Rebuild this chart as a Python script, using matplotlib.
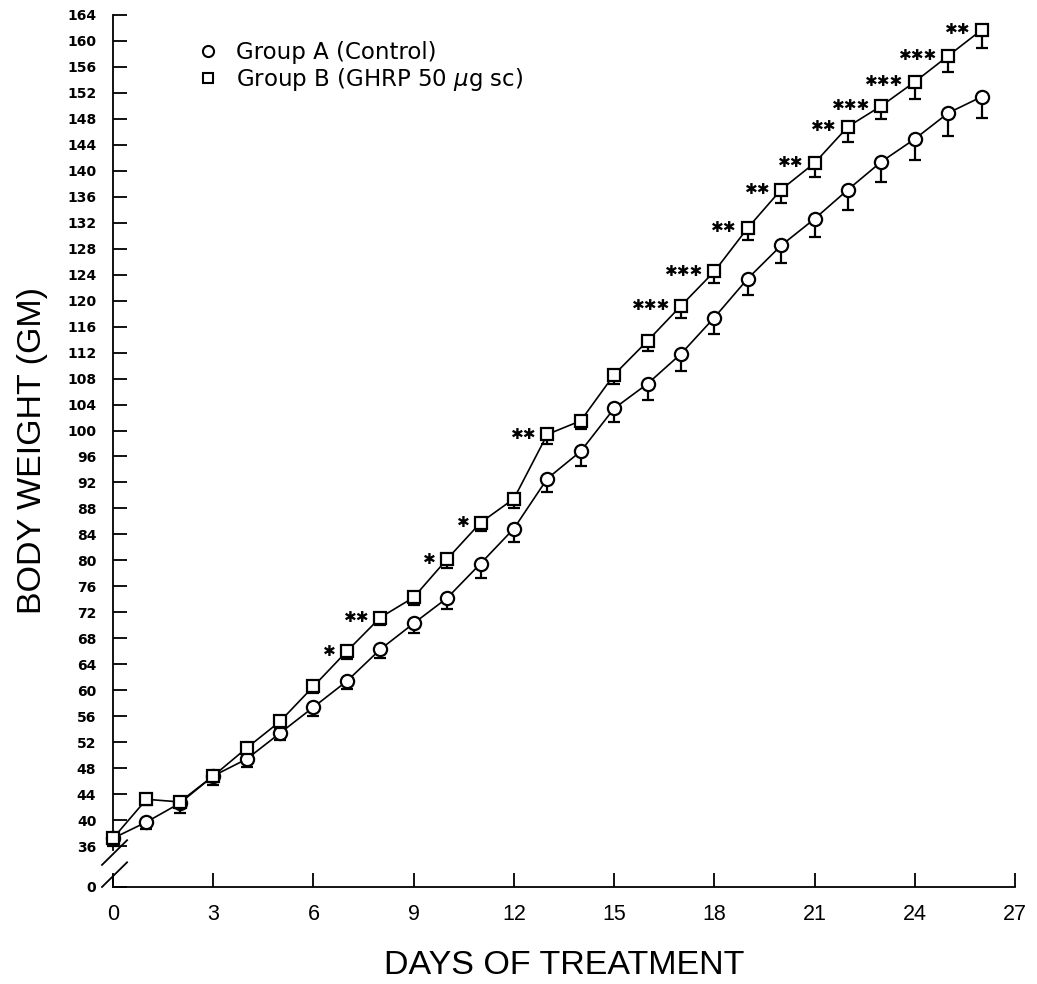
import matplotlib
matplotlib.use('Agg')
import matplotlib.pyplot as plt
from matplotlib.lines import Line2D

# 数据
days = list(range(27))
group_a = [37.2, 39.7, 42.6, 46.8, 49.4, 53.4, 57.4, 61.4, 66.3, 70.3, 74.2, 79.5, 84.9,
           92.6, 96.8, 103.4, 107.2, 111.8, 117.4, 123.4, 128.5, 132.6, 137.1, 141.4,
           144.9, 148.9, 151.4]
group_a_err = [1.2, 1.0, 1.5, 1.4, 1.2, 1.1, 1.4, 1.2, 1.4, 1.5, 1.7, 2.2, 2.1,
               2.0, 2.3, 2.1, 2.5, 2.6, 2.5, 2.6, 2.7, 2.8, 3.2, 3.1, 3.2, 3.5, 3.2]
group_b = [37.2, 43.2, 42.8, 46.8, 51.1, 55.2, 60.6, 66.0, 71.2, 74.3, 80.2, 85.8, 89.5,
           99.4, 101.5, 108.6, 113.8, 119.2, 124.5, 131.2, 137.1, 141.2, 146.8, 150.0,
           153.7, 157.7, 161.7]
group_b_err = [1.0, 0.8, 1.0, 1.0, 0.8, 1.0, 1.0, 1.2, 1.2, 1.2, 1.4, 1.2, 1.5,
               1.4, 1.2, 1.4, 1.5, 1.8, 1.8, 1.8, 2.0, 2.2, 2.3, 2.0, 2.6, 2.5, 2.8]
# 显著性标记（天数 -> 星号个数）
sig_days = [7, 8, 10, 11, 13, 17, 18, 19, 20, 21, 22, 23, 24, 25, 26]
sig_stars = [1, 2, 1, 1, 2, 3, 3, 2, 2, 2, 2, 3, 3, 3, 2]

xticks = list(range(0, 28, 3))
yticks = list(range(36, 165, 4))
y_break = 29.7  # 断轴底部位置，对应标签 "0"

fig = plt.figure(figsize=(10.37, 9.84), dpi=100)
ax = fig.add_axes([0.109, 0.0986, 0.8698, 0.8862])

err_kw = dict(color='black', lw=1.2, capsize=4.5, capthick=1.6, elinewidth=1.6, clip_on=False)
ax.errorbar(days, group_a, yerr=[group_a_err, [0] * len(days)], fmt='-o', ms=9.5,
            mfc='white', mec='black', mew=1.6, zorder=3, **err_kw)
ax.errorbar(days, group_b, yerr=[group_b_err, [0] * len(days)], fmt='-s', ms=8.5,
            mfc='white', mec='black', mew=1.6, zorder=4, **err_kw)

# 星号
for d, n in zip(sig_days, sig_stars):
    ax.annotate('\u2731' * n, xy=(d, group_b[d]), xytext=(-8, 0), textcoords='offset points',
                ha='right', va='center', fontsize=11, fontweight='bold',
                family=['DejaVu Sans'])

ax.set_xlim(0, 27)
ax.set_ylim(y_break, 164)
ax.set_xticks(xticks)
ax.set_xticklabels([str(t) for t in xticks], family=['Liberation Sans', 'DejaVu Sans'],
                   fontsize=15.5)
ax.set_yticks([y_break] + yticks)
ax.set_yticklabels(['0'] + [str(t) for t in yticks], family=['DejaVu Sans'],
                   fontsize=10, fontweight='bold')
ax.tick_params(axis='x', direction='in', length=10, width=1.3, pad=12)
ax.tick_params(axis='y', direction='in', length=10, width=1.3, pad=12)

for s in ['top', 'right']:
    ax.spines[s].set_visible(False)
ax.spines['left'].set_bounds(35.4, 164)
ax.spines['left'].set_linewidth(1.3)
ax.spines['bottom'].set_linewidth(1.3)

# 断轴标记
ax.plot([0, 0], [y_break, y_break + 1.8], color='black', lw=1.3, clip_on=False)
ax.plot([-0.33, 0.42], [33.1, 36.9], color='black', lw=1.3, clip_on=False)
ax.plot([-0.33, 0.42], [29.7, 33.5], color='black', lw=1.3, clip_on=False)

ax.set_xlabel('DAYS OF TREATMENT', family=['Liberation Sans', 'DejaVu Sans'],
              fontsize=24.5, labelpad=18)
ax.set_ylabel('BODY WEIGHT (GM)', family=['Liberation Sans', 'DejaVu Sans'],
              fontsize=24.5, labelpad=14)

handles = [Line2D([], [], marker='o', ls='none', ms=8, mfc='white', mec='black', mew=1.5),
           Line2D([], [], marker='s', ls='none', ms=7, mfc='white', mec='black', mew=1.5)]
ax.legend(handles, ['Group A (Control)', r'Group B (GHRP 50 $\mu$g sc)'],
          loc='upper left', bbox_to_anchor=(0.07, 0.994), frameon=False,
          fontsize=16.5, handlelength=1.0, handletextpad=0.7, labelspacing=0.08)

fig.savefig('out.png', dpi=100)
